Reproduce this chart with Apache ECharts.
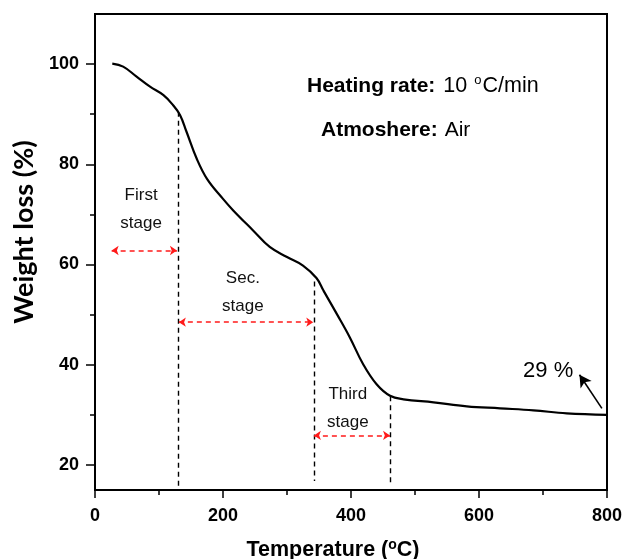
<!DOCTYPE html>
<html>
<head>
<meta charset="utf-8">
<script src="https://cdn.jsdelivr.net/npm/echarts@6/dist/echarts.min.js"></script>
<style>
  html, body { margin: 0; padding: 0; background: #fff; }
  #chart { width: 625px; height: 559px; }
</style>
</head>
<body>
<div id="chart"></div>
<script>
// TGA curve: temperature (°C) vs remaining weight (%)
const temperature = [27, 44, 65, 86, 107, 122, 133, 143, 159, 175, 200, 216, 247, 273, 300, 325, 346, 357, 378, 398, 419, 440, 461, 482, 529, 581, 633, 685, 737, 800];
const weight = [100.1, 99.5, 97.5, 95.5, 93.8, 91.8, 89.8, 86.5, 81.1, 77.1, 73.1, 70.8, 66.8, 63.5, 61.5, 59.8, 57.3, 54.8, 50.1, 45.5, 40.1, 36.1, 33.8, 33.1, 32.5, 31.7, 31.3, 30.9, 30.3, 30.0];

// Axis ticks
const yMajorTicks = [20, 40, 60, 80, 100];
const yMinorTicks = [30, 50, 70, 90];

// Stage boundaries: [temperature, top of dashed marker (weight %), bottom (weight %)]
const stageBoundaries = [
  [130, 90.5, 15.4],
  [342, 56.6, 16.8],
  [462, 33.7, 16.2]
];

// Stage spans (double arrows): [from temp, to temp, weight level]
const stageSpans = [
  [26, 128, 62.8],
  [131, 341, 48.5],
  [342, 461, 25.9]
];

// Stage labels: [temp, weight, text]
const stageLabels = [
  [72, 71.0, 'First\nstage'],
  [231, 54.4, 'Sec.\nstage'],
  [395, 31.4, 'Third\nstage']
];

// Residual mass annotation
const residueLabel = [708, 38.8, '29 %'];
const residueArrow = [[792, 31.3], [757, 38.0]];

const chart = echarts.init(document.getElementById('chart'));

const arial = 'Liberation Sans, Arial, sans-serif';
const tickFont = { fontFamily: arial, fontWeight: 'bold', fontSize: 18, color: '#000' };

chart.setOption({
  animation: false,
  backgroundColor: '#fff',
  grid: {
    left: 95, right: 18, top: 14, bottom: 69,
    outerBoundsMode: 'none',
    containLabel: false,
    show: true, borderColor: '#000', borderWidth: 2, backgroundColor: 'transparent'
  },
  xAxis: {
    type: 'value',
    min: 0, max: 800, interval: 200,
    splitLine: { show: false },
    axisLine: { lineStyle: { color: '#000', width: 2 } },
    axisTick: { length: 8, lineStyle: { color: '#000', width: 1.5 } },
    minorTick: { show: true, splitNumber: 2, length: 5, lineStyle: { color: '#000', width: 1.5 } },
    axisLabel: Object.assign({ margin: 17 }, tickFont),
    name: 'Temperature ({sup|o}C)',
    nameLocation: 'middle',
    nameGap: 48,
    nameTextStyle: {
      fontFamily: arial, fontWeight: 'bold', fontSize: 21.5, color: '#000',
      padding: [0, 36, 0, 0],
      rich: {
        sup: { fontFamily: arial, fontWeight: 'bold', fontSize: 14, color: '#000', padding: [0, 0, 10, 0] }
      }
    }
  },
  yAxis: [
    {
      type: 'value',
      min: 15, max: 110,
      splitLine: { show: false },
      axisLine: { show: true, lineStyle: { color: '#000', width: 2 } },
      axisTick: { show: true, length: 9, customValues: yMajorTicks, lineStyle: { color: '#000', width: 1.5 } },
      axisLabel: Object.assign({ margin: 16, customValues: yMajorTicks }, tickFont),
      name: 'Weight loss (%)',
      nameLocation: 'middle',
      nameGap: 56,
      nameTextStyle: {
        fontFamily: 'Lato, Open Sans, sans-serif', fontWeight: 'bold', fontSize: 27, color: '#000',
        padding: [0, 0, 0, 40]
      }
    },
    {
      type: 'value',
      min: 15, max: 110,
      position: 'left',
      splitLine: { show: false },
      axisLine: { show: false },
      axisTick: { show: true, length: 5, customValues: yMinorTicks, lineStyle: { color: '#000', width: 1.5 } },
      axisLabel: { show: false, customValues: yMinorTicks }
    }
  ],
  graphic: [
    {
      type: 'text', left: 307, top: 74,
      style: {
        text: '{b|Heating rate:}{g| }{n|10 }{s|o}{n|C/min}',
        rich: {
          b: { fontFamily: arial, fontWeight: 'bold', fontSize: 21, fill: '#000' },
          g: { fontFamily: arial, fontSize: 21, fill: '#000', width: 8 },
          n: { fontFamily: arial, fontSize: 21.5, fill: '#000' },
          s: { fontFamily: arial, fontSize: 13, fill: '#000', padding: [0, 1, 12, 1] }
        }
      }
    },
    {
      type: 'text', left: 321, top: 120,
      style: {
        text: '{b|Atmoshere:}{g| }{n|Air}',
        rich: {
          b: { fontFamily: arial, fontWeight: 'bold', fontSize: 21, fill: '#000' },
          g: { fontFamily: arial, fontSize: 21, fill: '#000', width: 7 },
          n: { fontFamily: arial, fontSize: 21, fill: '#000' }
        }
      }
    }
  ],
  series: [
    {
      name: 'Weight',
      type: 'line',
      data: temperature.map((t, i) => [t, weight[i]]),
      smooth: 0.4,
      symbol: 'none',
      lineStyle: { color: '#000', width: 2.2 },
      z: 5,
      markLine: {
        silent: true,
        animation: false,
        label: { show: false },
        data: [
          // stage boundaries
          ...stageBoundaries.map(b => [
            { coord: [b[0], b[1]], symbol: 'none', lineStyle: { color: '#000', type: [5, 4], width: 1.4 } },
            { coord: [b[0], b[2]], symbol: 'none' }
          ]),
          // stage spans
          ...stageSpans.map(s => [
            { coord: [s[0], s[2]], symbol: 'arrow', symbolSize: [7, 7], lineStyle: { color: '#ff1a1a', type: [5, 4], width: 1.6 } },
            { coord: [s[1], s[2]], symbol: 'arrow', symbolSize: [7, 7] }
          ]),
          // residue pointer
          [
            { coord: residueArrow[0], symbol: 'none', lineStyle: { color: '#000', type: 'solid', width: 1.6 } },
            { coord: residueArrow[1], symbol: 'arrow', symbolSize: [10, 12] }
          ]
        ]
      }
    },
    {
      name: 'Stages',
      type: 'scatter',
      symbolSize: 0,
      silent: true,
      itemStyle: { color: '#000', opacity: 1 },
      data: stageLabels.map(l => ({ value: [l[0], l[1]], text: l[2] })),
      label: {
        show: true, position: 'inside', opacity: 1,
        formatter: p => p.data.text,
        fontFamily: arial, fontSize: 17, color: '#111', lineHeight: 28, align: 'center',
        textBorderWidth: 0
      }
    },
    {
      name: 'Residue',
      type: 'scatter',
      symbolSize: 0,
      silent: true,
      itemStyle: { color: '#000', opacity: 1 },
      data: [{ value: [residueLabel[0], residueLabel[1]], text: residueLabel[2] }],
      label: {
        show: true, position: 'inside', opacity: 1,
        formatter: p => p.data.text,
        fontFamily: arial, fontSize: 22, color: '#000',
        textBorderWidth: 0
      }
    }
  ]
});
</script>
</body>
</html>
